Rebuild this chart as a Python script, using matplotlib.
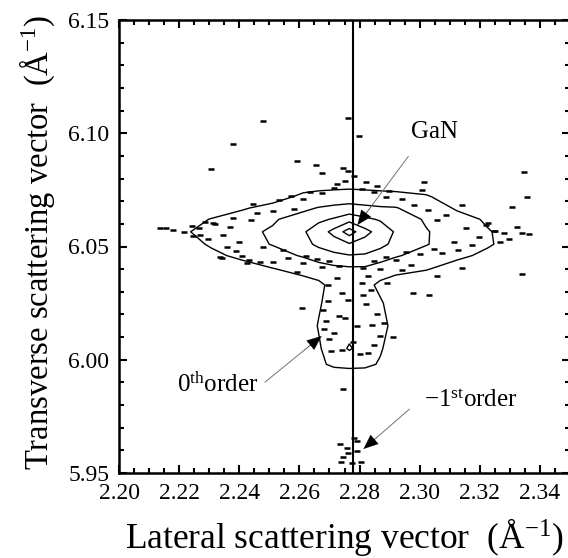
import numpy as np
import matplotlib
matplotlib.use('Agg')
import matplotlib.pyplot as plt
from matplotlib.ticker import MultipleLocator, FormatStrFormatter

plt.rcParams['font.family'] = 'Liberation Serif'
plt.rcParams['mathtext.fontset'] = 'custom'
plt.rcParams['mathtext.rm'] = 'Liberation Serif'
plt.rcParams['mathtext.it'] = 'Liberation Serif:italic'
plt.rcParams['mathtext.bf'] = 'Liberation Serif:bold'

# grid nodes of the intensity map (Å^-1)
qx = [2.20, 2.2102, 2.2204, 2.2307, 2.2409, 2.2511, 2.2613, 2.2664, 2.2715,
      2.2766, 2.2818, 2.2869, 2.292, 2.3022, 2.3124, 2.3226, 2.3329, 2.3431, 2.355]
qz = [5.95, 5.99, 5.998, 6.005, 6.015, 6.025, 6.033, 6.04, 6.046, 6.051,
      6.0565, 6.062, 6.067, 6.072, 6.078, 6.088, 6.15]

# log intensity, one row per qz (bottom to top)
log_counts = [
    [0, 0, 0, 0, 0, 0, 0, 0, 0, 0, 0, 0, 0, 0, 0, 0, 0, 0, 0],
    [0, 0, 0, 0, 0, 0, 0, 0, 0, 0, 0, 0, 0, 0, 0, 0, 0, 0, 0],
    [0, 0, 0, 0, 0, 0, 0.2, 0.8, 1.2, 1.3, 1.25, 0.9, 0.3, 0, 0, 0, 0, 0, 0],
    [0, 0, 0, 0, 0, 0, 0.3, 0.9, 1.5, 2.1, 1.6, 1.1, 0.5, 0, 0, 0, 0, 0, 0],
    [0, 0, 0, 0, 0, 0.1, 0.5, 1.05, 1.4, 1.6, 1.5, 1.3, 0.7, 0.2, 0, 0, 0, 0, 0],
    [0, 0, 0, 0, 0, 0.2, 0.5, 0.9, 1.4, 1.5, 1.4, 1.1, 0.6, 0.2, 0, 0, 0, 0, 0],
    [0, 0, 0, 0, 0.1, 0.3, 0.6, 0.8, 1.3, 1.4, 1.3, 0.8, 0.5, 0.3, 0, 0, 0, 0, 0],
    [0, 0, 0.1, 0.3, 0.6, 0.95, 1.3, 1.5, 1.7, 1.8, 1.8, 1.5, 1.3, 1.05, 0.6, 0.3, 0, 0, 0],
    [0, 0.1, 0.4, 0.8, 1.2, 1.6, 2.1, 2.5, 2.8, 2.95, 2.9, 2.5, 2.1, 1.6, 1.2, 0.8, 0.3, 0, 0],
    [0, 0.2, 0.6, 1.1, 1.6, 2.05, 2.7, 3.2, 3.5, 3.9, 3.6, 3.3, 2.7, 2.05, 1.5, 1.1, 0.6, 0.2, 0],
    [0, 0.4, 0.9, 1.2, 1.8, 2.1, 2.9, 3.5, 4.3, 5.5, 4.3, 3.6, 2.9, 2.05, 1.6, 1.05, 0.7, 0.3, 0],
    [0, 0.2, 0.5, 1.05, 1.4, 1.9, 2.4, 2.8, 3.1, 3.6, 3.2, 2.9, 2.5, 1.9, 1.3, 0.9, 0.4, 0.1, 0],
    [0, 0, 0.1, 0.4, 0.9, 1.3, 1.8, 2.05, 2.2, 2.3, 2.2, 2.1, 2.05, 1.5, 0.9, 0.5, 0.2, 0, 0],
    [0, 0, 0, 0, 0.2, 0.6, 1.2, 1.3, 1.4, 1.5, 1.4, 1.3, 1.3, 1.1, 0.5, 0.2, 0, 0, 0],
    [0, 0, 0, 0, 0, 0.2, 0.5, 0.6, 0.6, 0.6, 0.6, 0.6, 0.5, 0.4, 0, 0, 0, 0, 0],
    [0, 0, 0, 0, 0, 0, 0, 0, 0, 0.3, 0, 0, 0, 0, 0, 0, 0, 0, 0],
    [0, 0, 0, 0, 0, 0, 0, 0, 0, 0, 0, 0, 0, 0, 0, 0, 0, 0, 0],
]
levels = [1, 2, 3, 4, 5]

# isolated noise speckles (small closed contours)
speck_x = [2.2478, 2.2378, 2.2307, 2.2593, 2.2654, 2.2675, 2.2744, 2.2136, 2.2156,
           2.2179, 2.2242, 2.2269, 2.2319, 2.2378, 2.2445, 2.2593, 2.247, 2.2425,
           2.2335, 2.2358, 2.2694, 2.276, 2.2797, 2.3016, 2.3009, 2.3142, 2.3348,
           2.3357, 2.3308, 2.3142, 2.3341, 2.2979, 2.2893, 2.2607, 2.2744, 2.291,
           2.2883, 2.3056, 2.2942, 2.3221, 2.3252, 2.3282, 2.2312, 2.2342, 2.3032,
           2.2531, 2.2572, 2.2613, 2.2634, 2.2675, 2.2715, 2.2807, 2.2848, 2.2889,
           2.2409, 2.2511, 2.2562, 2.2613, 2.2675, 2.2828, 2.2869, 2.292, 2.2971,
           2.3073,
           2.2726, 2.2807, 2.2838, 2.2695, 2.2715, 2.2858, 2.2777, 2.2705, 2.2828,
           2.2215, 2.2266, 2.2296, 2.2347, 2.3155, 2.3196, 2.3247, 2.3298, 2.3339,
           2.3226,
           2.2734, 2.2757, 2.276, 2.2744, 2.279, 2.2793, 2.274, 2.2774, 2.2806,
           2.2783,
           2.2245, 2.2286, 2.2368, 2.2399, 2.2439, 2.248, 2.2511, 2.2547, 2.2583,
           2.2623, 2.246, 2.2388, 2.2434,
           2.2751, 2.2782, 2.2761, 2.2726, 2.2823, 2.2858,
           2.2899, 2.294, 2.2981, 2.3027, 2.3058, 2.3088, 2.3114, 2.3048, 2.3002,
           2.2956, 2.3129, 2.3175, 2.3267, 2.3323, 2.3364,
           2.27, 2.2731, 2.2812, 2.2848, 2.2889, 2.2659,
           2.2741, 2.2812, 2.2761, 2.2823,
           2.268, 2.269, 2.2683, 2.27, 2.2843, 2.2869, 2.2848, 2.2731, 2.2751,
           2.2792, 2.2741, 2.2802]
speck_y = [6.1054, 6.0953, 6.0842, 6.0877, 6.086, 6.0824, 6.0847, 6.058, 6.058,
           6.0575, 6.059, 6.055, 6.060, 6.0626, 6.0688, 6.0387, 6.043, 6.0427,
           6.0454, 6.0498, 6.033, 6.1067, 6.0988, 6.0785, 6.075, 6.0683, 6.0829,
           6.0719, 6.0674, 6.0405, 6.0379, 6.0295, 6.0339, 6.0228, 5.987, 6.010,
           6.0162, 6.037, 6.0396, 6.0595, 6.057, 6.056, 6.0604, 6.0449, 6.0286,
           6.0705, 6.0725, 6.071, 6.074, 6.0735, 6.076, 6.0755, 6.074, 6.072,
           6.046, 6.043, 6.045, 6.0425, 6.041, 6.037, 6.040, 6.044, 6.042,
           6.047,
           6.036, 6.034, 6.031, 6.026, 6.012, 6.020, 6.008, 6.004, 6.003,
           6.0565, 6.058, 6.0535, 6.055, 6.058, 6.054, 6.057, 6.0535, 6.056,
           6.0605,
           5.9628, 5.961, 5.9588, 5.9571, 5.9643, 5.9595, 5.9549, 5.9544, 5.9549,
           5.9654,
           6.0545, 6.061, 6.0585, 6.052, 6.0615, 6.050, 6.0655, 6.0485, 6.0665,
           6.046, 6.065, 6.048, 6.044,
           6.079, 6.081, 6.0835, 6.0775, 6.0785, 6.0765,
           6.0745, 6.071, 6.0685, 6.066, 6.0615, 6.064, 6.052, 6.049, 6.0465,
           6.0475, 6.0485, 6.0505, 6.052, 6.0585, 6.0555,
           6.0435, 6.0415, 6.0405, 6.0435, 6.0455, 6.0445,
           6.0295, 6.0285, 6.0265, 6.0245,
           6.022, 6.017, 6.0135, 6.009, 6.0155, 6.0105, 6.0065, 6.0195, 6.0185,
           6.015, 6.0045, 6.0025]

# surface normal through the GaN peak
qx_line = 2.2778

# labels: (text, text position, arrow start, arrow tip)
labels = [
    ('GaN', (2.3049, 6.1005), (2.2968, 6.0908), (2.2793, 6.0595)),
    ('0$^{\\rm th}$order', (2.2329, 5.9889), (2.2478, 5.9893), (2.2674, 6.0105)),
    ('\u22121$^{\\rm st}$order', (2.317, 5.9822), (2.2973, 5.979), (2.2813, 5.9606)),
]

fig = plt.figure(figsize=(5.68, 5.58), dpi=100)
ax = fig.add_axes([119 / 568, 85 / 558, 451 / 568, 453 / 558])

ax.contour(qx, qz, np.array(log_counts), levels=levels, colors='k', linewidths=1.0)
ax.plot(speck_x, speck_y, ls='none', marker='_', ms=4, mew=1.8, color='k')
ax.axvline(qx_line, color='k', lw=1.5)

for txt, tpos, start, tip in labels:
    ax.text(tpos[0], tpos[1], txt, fontsize=18, ha='center', va='center')
    ax.annotate('', xy=tip, xytext=start,
                arrowprops=dict(arrowstyle='-', color='0.45', lw=0.7))
    back = (tip[0] + 0.3 * (start[0] - tip[0]), tip[1] + 0.3 * (start[1] - tip[1]))
    ax.annotate('', xy=tip, xytext=back,
                arrowprops=dict(arrowstyle='-|>,head_length=0.65,head_width=0.27',
                                mutation_scale=16, color='k', lw=0.1,
                                shrinkA=0, shrinkB=0))

ax.set_xlim(2.20, 2.35)
ax.set_ylim(5.95, 6.15)
ax.xaxis.set_major_locator(MultipleLocator(0.02))
ax.xaxis.set_minor_locator(MultipleLocator(0.005))
ax.yaxis.set_major_locator(MultipleLocator(0.05))
ax.yaxis.set_minor_locator(MultipleLocator(0.01))
ax.xaxis.set_major_formatter(FormatStrFormatter('%.2f'))
ax.yaxis.set_major_formatter(FormatStrFormatter('%.2f'))
ax.tick_params(which='both', direction='in', top=True, right=True, width=1.5,
               labelsize=17)
ax.tick_params(which='major', length=6, pad=7)
ax.tick_params(which='minor', length=3.5)
for s in ax.spines.values():
    s.set_linewidth(1.8)

ax.set_xlabel('Lateral scattering vector  (Å$^{-1}$)', fontsize=25.5, labelpad=9)
ax.set_ylabel('Transverse scattering vector  (Å$^{-1}$)', fontsize=23.5)
ax.yaxis.set_label_coords(-0.137, 0.51)

fig.savefig('out.png', dpi=100)
